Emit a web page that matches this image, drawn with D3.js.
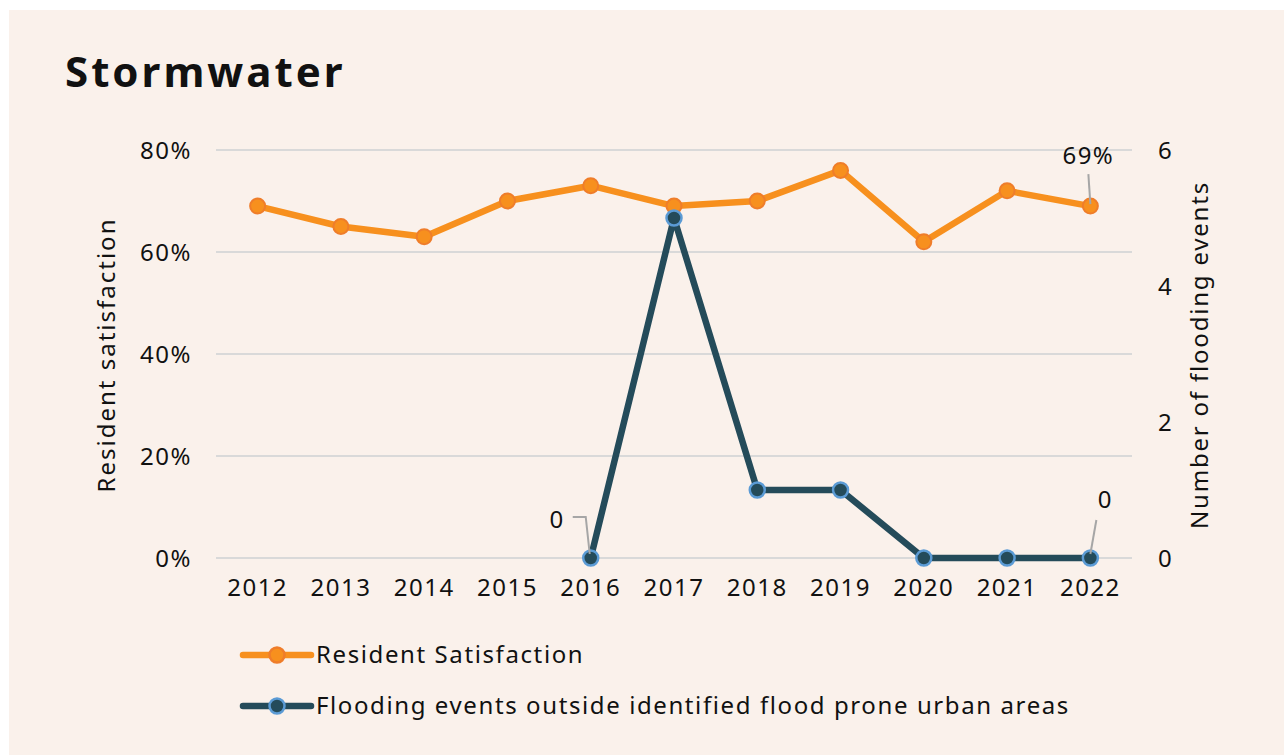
<html>
  <head>
    <title>Stormwater</title>
    <script src="https://d3js.org/d3.v7.min.js"></script>
    <style>
      body { margin: 0; background: #fff; }
      text { font-family: "Noto Sans", sans-serif; fill: #111; letter-spacing: 1.5px; }
    </style>
  </head>
  <body>
    <svg width="1284" height="755" id="chart"></svg>
  </body>

  <script type="text/javascript">
    var years = ["2012","2013","2014","2015","2016","2017","2018","2019","2020","2021","2022"];
    var satisfaction = [0.69, 0.65, 0.63, 0.70, 0.73, 0.69, 0.70, 0.76, 0.62, 0.72, 0.69];
    var flooding = [null, null, null, null, 0, 5, 1, 1, 0, 0, 0];
    var leftTicks = [0, 0.2, 0.4, 0.6, 0.8];
    var rightTicks = [0, 2, 4, 6];
    var legendLabels = ["Resident Satisfaction", "Flooding events outside identified flood prone urban areas"];

    var orange = "#f7901e", teal = "#244b5a";

    var svg = d3.select("#chart");
    svg.append("rect").attr("x", 9).attr("y", 10).attr("width", 1275).attr("height", 745).attr("fill", "#faf1eb");

    svg.append("text").attr("x", 65).attr("y", 87)
      .style("font-size", "42px").style("font-weight", "bold").style("letter-spacing", "3px")
      .text("Stormwater");

    var x = d3.scaleBand().domain(years).range([216, 1132]);
    var yL = d3.scaleLinear().domain([0, 0.8]).range([558, 150]);
    var yR = d3.scaleLinear().domain([0, 6]).range([558, 150]);

    var satData = satisfaction.map(function(v, i){ return {year: years[i], v: v}; });
    var floodData = flooding.map(function(v, i){ return {year: years[i], v: v}; });
    var cx = function(d){ return x(d.year) + x.bandwidth() / 2; };

    // gridlines
    svg.selectAll(".grid").data(leftTicks).enter().append("line")
      .attr("x1", 216).attr("x2", 1132)
      .attr("y1", function(d){ return yL(d); }).attr("y2", function(d){ return yL(d); })
      .attr("stroke", "#d9d9d9").attr("stroke-width", 2);

    // left axis
    var la = svg.append("g").attr("transform", "translate(204,0)")
      .call(d3.axisLeft(yL).tickValues(leftTicks).tickFormat(d3.format(".0%")).tickSize(0).tickPadding(12));
    la.select(".domain").remove();
    la.selectAll("text").style("font-size", "24px").attr("fill", "#111").attr("dy", "0.35em");

    // right axis
    var ra = svg.append("g").attr("transform", "translate(1146,0)")
      .call(d3.axisRight(yR).tickValues(rightTicks).tickFormat(d3.format("d")).tickSize(0).tickPadding(12));
    ra.select(".domain").remove();
    ra.selectAll("text").style("font-size", "24px").attr("fill", "#111").attr("dy", "0.35em");

    // x axis
    var xa = svg.append("g").attr("transform", "translate(0,574)")
      .call(d3.axisBottom(x).tickSize(0).tickPadding(0));
    xa.select(".domain").remove();
    xa.selectAll("text").style("font-size", "24px").attr("fill", "#111").attr("dy", "0.9em");

    svg.append("text").attr("transform", "translate(115,355) rotate(-90)")
      .attr("text-anchor", "middle").style("font-size", "24px").style("letter-spacing", "2px").text("Resident satisfaction");
    svg.append("text").attr("transform", "translate(1208,355) rotate(-90)")
      .attr("text-anchor", "middle").style("font-size", "24px").style("letter-spacing", "1.8px").text("Number of flooding events");

    // satisfaction line
    var lineL = d3.line().x(cx).y(function(d){ return yL(d.v); });
    svg.append("path").attr("d", lineL(satData))
      .attr("fill", "none").attr("stroke", orange).attr("stroke-width", 6.5).attr("stroke-linejoin", "round");

    // flooding line
    var lineR = d3.line().defined(function(d){ return d.v !== null; }).x(cx).y(function(d){ return yR(d.v); });
    svg.append("path").attr("d", lineR(floodData))
      .attr("fill", "none").attr("stroke", teal).attr("stroke-width", 6.5).attr("stroke-linejoin", "round");

    svg.selectAll(".ms").data(satData).enter().append("circle")
      .attr("cx", cx).attr("cy", function(d){ return yL(d.v); }).attr("r", 7.5)
      .attr("fill", orange).attr("stroke", "#ef7d2a").attr("stroke-width", 2);

    svg.selectAll(".mf").data(floodData.filter(function(d){ return d.v !== null; })).enter().append("circle")
      .attr("cx", cx).attr("cy", function(d){ return yR(d.v); }).attr("r", 7.5)
      .attr("fill", teal).attr("stroke", "#5b9bd5").attr("stroke-width", 2.5);

    // data labels with leader lines
    var lead = "#a6a6a6";
    var x16 = x("2016") + x.bandwidth() / 2, x22 = x("2022") + x.bandwidth() / 2;
    svg.append("path").attr("d", "M" + (x16 - 18) + "," + (yR(0) - 41) + "H" + (x16 - 5) + "L" + (x16 - 1) + "," + (yR(0) - 4))
      .attr("fill", "none").attr("stroke", lead).attr("stroke-width", 2);
    svg.append("text").attr("x", x16 - 26).attr("y", yR(0) - 30).attr("text-anchor", "end")
      .style("font-size", "24px").text(flooding[4]);

    svg.append("path").attr("d", "M" + (x22 - 2) + "," + (yL(satisfaction[10]) - 32) + "L" + x22 + "," + (yL(satisfaction[10]) - 2))
      .attr("fill", "none").attr("stroke", lead).attr("stroke-width", 2);
    svg.append("text").attr("x", x22 - 2).attr("y", yL(satisfaction[10]) - 42).attr("text-anchor", "middle")
      .style("font-size", "24px").text(d3.format(".0%")(satisfaction[10]));

    svg.append("path").attr("d", "M" + (x22 + 6) + "," + (yR(0) - 38) + "L" + x22 + "," + (yR(0) - 4))
      .attr("fill", "none").attr("stroke", lead).attr("stroke-width", 2);
    svg.append("text").attr("x", x22 + 15).attr("y", yR(0) - 50).attr("text-anchor", "middle")
      .style("font-size", "24px").text(flooding[10]);

    // legend
    var lg = svg.selectAll(".lg").data(legendLabels).enter().append("g")
      .attr("transform", function(d, i){ return "translate(243," + (655 + i * 51) + ")"; });
    lg.append("line").attr("x1", 0).attr("x2", 68)
      .attr("stroke", function(d, i){ return i ? teal : orange; }).attr("stroke-width", 6.5).attr("stroke-linecap", "round");
    lg.append("circle").attr("cx", 34).attr("r", 7.5)
      .attr("fill", function(d, i){ return i ? teal : orange; })
      .attr("stroke", function(d, i){ return i ? "#5b9bd5" : "#ef7d2a"; }).attr("stroke-width", 2.5);
    lg.append("text").attr("x", 73).attr("dy", "0.35em").style("font-size", "24px").style("letter-spacing", "1.6px")
      .text(function(d){ return d; });
  </script>
</html>
